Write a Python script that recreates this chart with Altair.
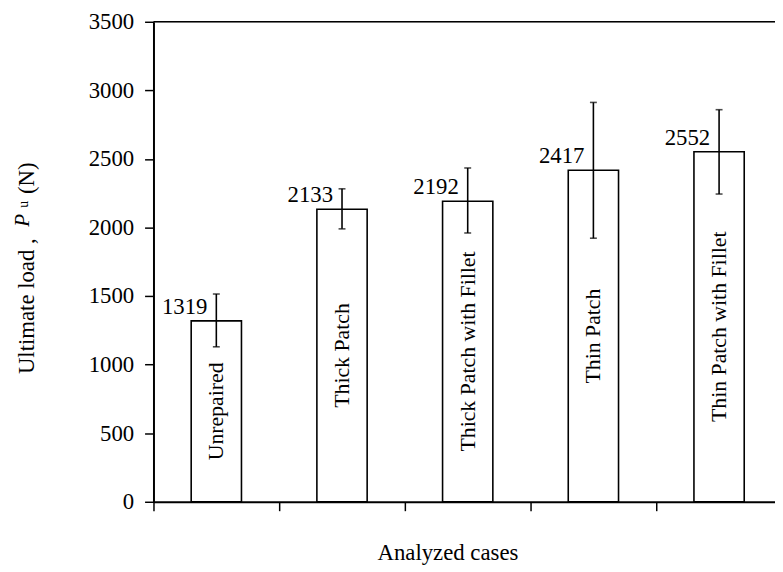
import altair as alt
import pandas as pd

cases = ["Unrepaired", "Thick Patch", "Thick Patch with Fillet", "Thin Patch", "Thin Patch with Fillet"]
loads = [1319, 2133, 2192, 2417, 2552]
err_low = [1130, 1990, 1960, 1922, 2244]
err_high = [1515, 2282, 2434, 2912, 2859]
y_ticks = [0, 500, 1000, 1500, 2000, 2500, 3000, 3500]

df = pd.DataFrame({"case": cases, "load": loads, "lo": err_low, "hi": err_high})

FONT = "Liberation Serif"
FS = 23

x_enc = alt.X(
    "case:N",
    sort=cases,
    scale=alt.Scale(range=[0, 635], paddingInner=0, paddingOuter=0),
    axis=alt.Axis(
        labels=False, tickBand="extent", tickSize=9, tickWidth=1.5, tickColor="black",
        domainWidth=2, domainColor="black",
        title="Analyzed cases", titleFont=FONT, titleFontSize=FS, titleFontWeight="normal",
        titleColor="black", titleBaseline="alphabetic", titlePadding=49, titleX=297,
    ),
)
y_scale = alt.Scale(domain=[0, 3500], nice=False)
y_axis = alt.Axis(
    values=y_ticks, format="d", grid=False, tickSize=9, tickWidth=1.5, tickColor="black",
    domainWidth=2, domainColor="black", labelFont=FONT, labelFontSize=FS,
    labelColor="black", labelPadding=11, title=None,
)

base = alt.Chart(df)

bars = base.mark_bar(
    fill="white", stroke="black", strokeWidth=1.6, width=alt.RelativeBandSize(0.4)
).encode(x=x_enc, y=alt.Y("load:Q", scale=y_scale, axis=y_axis))

err = base.mark_rule(color="black", strokeWidth=1.6).encode(
    x=alt.X("case:N", sort=cases), y="lo:Q", y2="hi:Q"
)
cap_lo = base.mark_tick(color="black", size=7, thickness=1.6).encode(
    x=alt.X("case:N", sort=cases), y="lo:Q"
)
cap_hi = base.mark_tick(color="black", size=7, thickness=1.6).encode(
    x=alt.X("case:N", sort=cases), y="hi:Q"
)

vals = base.mark_text(
    font=FONT, fontSize=FS, color="black", align="right", baseline="alphabetic", dx=-9, dy=-7
).encode(x=alt.X("case:N", sort=cases), y="load:Q", text="load:Q")

names = base.transform_calculate(mid="datum.load / 2").mark_text(
    font=FONT, fontSize=22, color="black", angle=270, align="center", baseline="middle"
).encode(x=alt.X("case:N", sort=cases), y="mid:Q", text="case:N")

one = alt.Data(values=[{"k": 1}])
top_line = alt.Chart(one).mark_rule(color="black", strokeWidth=1.6).encode(
    x=alt.value(0), x2=alt.value(640), y=alt.value(0)
)

t1 = alt.Chart(one).mark_text(
    font=FONT, fontSize=FS, color="black", angle=270, align="left", baseline="alphabetic"
).encode(x=alt.value(-121), y=alt.value(356), text=alt.value("Ultimate load ,"))
t2 = alt.Chart(one).mark_text(
    font=FONT, fontSize=21, fontStyle="italic", color="black", angle=270, align="left",
    baseline="alphabetic"
).encode(x=alt.value(-126), y=alt.value(207), text=alt.value("P"))
t3 = alt.Chart(one).mark_text(
    font=FONT, fontSize=14, color="black", angle=270, align="left", baseline="alphabetic"
).encode(x=alt.value(-127), y=alt.value(188), text=alt.value("u"))
t4 = alt.Chart(one).mark_text(
    font=FONT, fontSize=FS, color="black", angle=270, align="left", baseline="alphabetic"
).encode(x=alt.value(-121), y=alt.value(174), text=alt.value("(N)"))

chart = alt.layer(bars, err, cap_lo, cap_hi, vals, names, top_line, t1, t2, t3, t4).properties(
    width=628, height=485,
    padding={"left": 147, "top": 11, "right": 0, "bottom": 66},
    autosize="none",
).configure_view(stroke=None).configure(font=FONT, background="white")

chart.save("out.html", embed_options={"renderer": "svg", "actions": False})
